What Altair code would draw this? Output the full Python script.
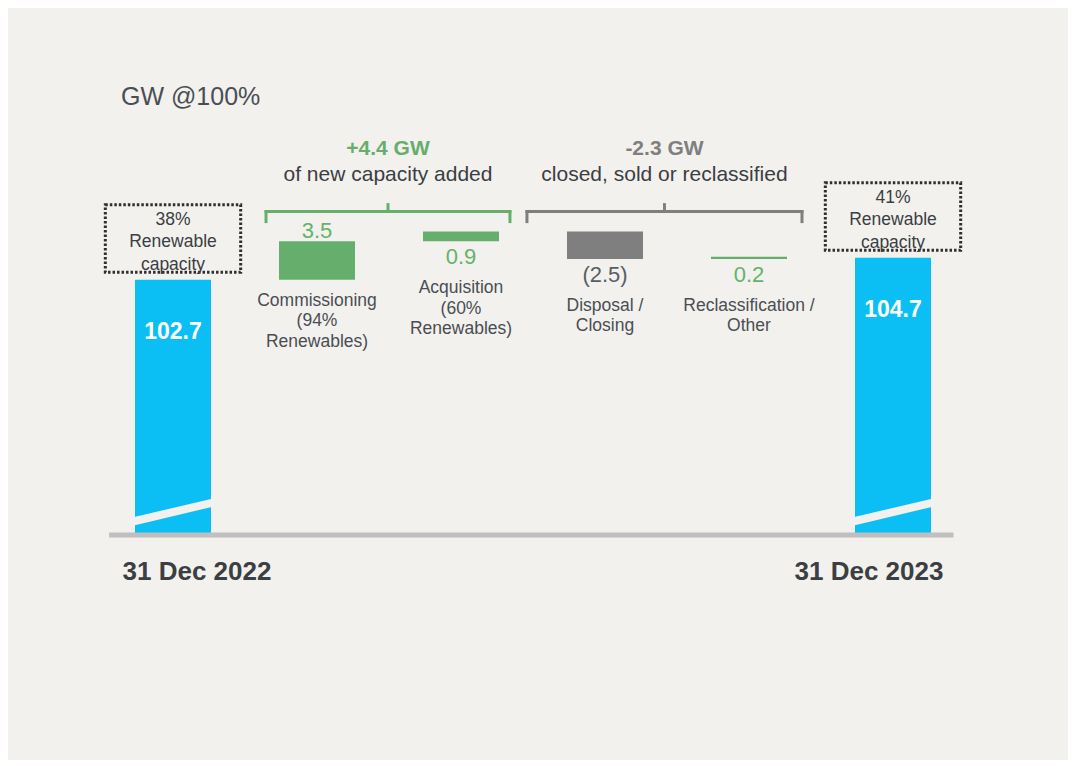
import altair as alt
import pandas as pd

# ---------------- data ----------------
unit_title = "GW @100%"
total_labels = ["31 Dec 2022", "31 Dec 2023"]
total_values = [102.7, 104.7]
renewable_shares = ["38%", "41%"]

step_labels = [
    "Commissioning\n(94%\nRenewables)",
    "Acquisition\n(60%\nRenewables)",
    "Disposal /\nClosing",
    "Reclassification /\nOther",
]
step_values = [3.5, 0.9, -2.5, 0.2]
step_groups = ["add", "add", "remove", "remove"]

group_keys = ["add", "remove"]
group_captions = ["of new capacity added", "closed, sold or reclassified"]

# ---------------- style ----------------
BG = "#F2F1EE"
BLUE = "#0BBEF4"
GREEN = "#66AE6C"
GREEN_TEXT = "#62B36C"
GREY = "#7F7F7F"
NEG_TEXT = "#595E64"
DARK = "#3B3E42"
LABEL = "#4A4E53"
AXIS = "#BFBFBF"
FONT = "Liberation Sans"

W, H = 864, 752
PAD_L, PAD_R = 93, 103
PX = 11.0            # pixels per GW
BASE = 79.5          # broken-axis floor
BASE_PX = 527        # baseline distance from top of plot
y_hi = BASE + BASE_PX / PX
y_lo = y_hi - H / PX
N_SLOTS = len(step_values) + 2
UNIT = W / N_SLOTS
HALF = 38 / UNIT
label_above = [True, False, False, False]
bracket_pad = {"add": (0.354, 0.340), "remove": (0.542, 0.368)}

xs = alt.Scale(domain=[-0.5, N_SLOTS - 0.5], nice=False, zero=False)
ys = alt.Scale(domain=[y_lo, y_hi], nice=False, zero=False)

# ---------------- frames ----------------
total_idx = [0, N_SLOTS - 1]
totals = pd.DataFrame({
    "idx": total_idx,
    "value": total_values,
    "label": total_labels,
    "share": [f"{s}\nRenewable\ncapacity" for s in renewable_shares],
    "vtext": [f"{v:.1f}" for v in total_values],
})
totals["date_x"] = totals["idx"] + [24 / UNIT, -24 / UNIT]
totals["box_x1"] = totals["idx"] - 0.47
totals["box_x2"] = totals["idx"] + 0.47
totals["box_y1"] = totals["value"] + 7.5 / PX
totals["box_y2"] = totals["value"] + 75 / PX
totals["s_x1"] = totals["idx"] - 0.3
totals["s_x2"] = totals["idx"] + 0.3
totals["s_y1"] = BASE + 1.16
totals["s_y2"] = BASE + 3.02
totals["base"] = BASE

rows = []
run = total_values[0]
for i, (lab, v, g) in enumerate(zip(step_labels, step_values, step_groups)):
    s, e = run, run + v
    run = e
    rows.append(dict(
        idx=i + 1, label=lab, value=v, group=g,
        low=min(s, e), high=max(s, e),
        color=GREEN if v >= 0 else GREY,
        vtext=f"{v:.1f}" if v >= 0 else f"({abs(v):.1f})",
        vcolor=GREEN_TEXT if v >= 0 else NEG_TEXT,
        above=label_above[i],
    ))
steps = pd.DataFrame(rows)

bars = pd.concat([
    pd.DataFrame({"idx": totals["idx"], "lo": BASE, "hi": totals["value"], "color": BLUE}),
    pd.DataFrame({"idx": steps["idx"], "lo": steps["low"], "hi": steps["high"], "color": steps["color"]}),
], ignore_index=True)
bars["x1"] = bars["idx"] - HALF
bars["x2"] = bars["idx"] + HALF

grows = []
for g, cap in zip(group_keys, group_captions):
    m = steps[steps["group"] == g]
    pl, pr = bracket_pad[g]
    total = m["value"].sum()
    gy = m["high"].max() + 1.8
    grows.append(dict(
        group=g, caption=cap, g_lo=m["idx"].min() - pl, g_hi=m["idx"].max() + pr,
        gy=gy, end_y=gy - 10 / PX, top_y=gy + 8.5 / PX,
        total=f"{total:+.1f} GW", color=GREEN if total >= 0 else GREY,
    ))
groups = pd.DataFrame(grows)
groups["mid"] = (groups["g_lo"] + groups["g_hi"]) / 2
ends = pd.concat([
    groups[["g_lo", "gy", "end_y", "color"]].rename(columns={"g_lo": "x"}),
    groups[["g_hi", "gy", "end_y", "color"]].rename(columns={"g_hi": "x"}),
], ignore_index=True)

axis_df = pd.DataFrame({"x1": [-0.444], "x2": [N_SLOTS - 1 + 0.42], "y": [BASE]})
title_df = pd.DataFrame({"t": [unit_title]})

col = alt.Color("color:N", scale=None)

# ---------------- layers ----------------
bar_layer = alt.Chart(bars).mark_bar().encode(
    x=alt.X("x1:Q", scale=xs, axis=None), x2="x2:Q",
    y=alt.Y("lo:Q", scale=ys, axis=None), y2="hi:Q",
    color=col,
)

stripe = alt.Chart(totals).mark_rule(color=BG, strokeWidth=8, strokeCap="butt").encode(
    x=alt.X("s_x1:Q", scale=xs), x2="s_x2:Q",
    y=alt.Y("s_y1:Q", scale=ys), y2="s_y2:Q",
)

axis_line = alt.Chart(axis_df).mark_rule(color=AXIS, strokeWidth=5).encode(
    x=alt.X("x1:Q", scale=xs), x2="x2:Q", y=alt.Y("y:Q", scale=ys),
)

date_text = alt.Chart(totals).mark_text(
    font=FONT, fontSize=26, fontWeight="bold", color=DARK, baseline="middle", dy=37,
).encode(x=alt.X("date_x:Q", scale=xs), y=alt.Y("base:Q", scale=ys), text="label:N")

total_text = alt.Chart(totals).mark_text(
    font=FONT, fontSize=23, fontWeight="bold", color="white", baseline="middle", dy=52,
).encode(x=alt.X("idx:Q", scale=xs), y=alt.Y("value:Q", scale=ys), text="vtext:N")

box = alt.Chart(totals).mark_rect(
    fillOpacity=0, stroke="#2F2F2F", strokeWidth=3, strokeDash=[2.5, 2],
).encode(
    x=alt.X("box_x1:Q", scale=xs), x2="box_x2:Q",
    y=alt.Y("box_y1:Q", scale=ys), y2="box_y2:Q",
)

box_text = alt.Chart(totals).mark_text(
    font=FONT, fontSize=17.5, color=DARK, baseline="middle", lineBreak="\n", lineHeight=22.5, dy=15,
).encode(x=alt.X("idx:Q", scale=xs), y=alt.Y("box_y2:Q", scale=ys), text="share:N")

val_above = alt.Chart(steps).transform_filter("datum.above").mark_text(
    font=FONT, fontSize=22, baseline="alphabetic", dy=-3.5,
).encode(x=alt.X("idx:Q", scale=xs), y=alt.Y("high:Q", scale=ys), text="vtext:N",
         color=alt.Color("vcolor:N", scale=None))

val_below = alt.Chart(steps).transform_filter("!datum.above").mark_text(
    font=FONT, fontSize=22, baseline="top", dy=6,
).encode(x=alt.X("idx:Q", scale=xs), y=alt.Y("low:Q", scale=ys), text="vtext:N",
         color=alt.Color("vcolor:N", scale=None))

cat_above = alt.Chart(steps).transform_filter("datum.above").mark_text(
    font=FONT, fontSize=17.5, color=LABEL, baseline="top", dy=12, lineBreak="\n", lineHeight=20.5,
).encode(x=alt.X("idx:Q", scale=xs), y=alt.Y("low:Q", scale=ys), text="label:N")

cat_below = alt.Chart(steps).transform_filter("!datum.above").mark_text(
    font=FONT, fontSize=17.5, color=LABEL, baseline="top", dy=38, lineBreak="\n", lineHeight=20.5,
).encode(x=alt.X("idx:Q", scale=xs), y=alt.Y("low:Q", scale=ys), text="label:N")

br_h = alt.Chart(groups).mark_rule(strokeWidth=3, strokeCap="square").encode(
    x=alt.X("g_lo:Q", scale=xs), x2="g_hi:Q", y=alt.Y("gy:Q", scale=ys), color=col,
)
br_ends = alt.Chart(ends).mark_rule(strokeWidth=3, strokeCap="square").encode(
    x=alt.X("x:Q", scale=xs), y=alt.Y("gy:Q", scale=ys), y2="end_y:Q", color=col,
)
br_mid = alt.Chart(groups).mark_rule(strokeWidth=3).encode(
    x=alt.X("mid:Q", scale=xs), y=alt.Y("gy:Q", scale=ys), y2="top_y:Q", color=col,
)
gr_total = alt.Chart(groups).mark_text(
    font=FONT, fontSize=21, fontWeight="bold", baseline="middle", dy=-63,
).encode(x=alt.X("mid:Q", scale=xs), y=alt.Y("gy:Q", scale=ys), text="total:N", color=col)
gr_caption = alt.Chart(groups).mark_text(
    font=FONT, fontSize=21, color=DARK, baseline="middle", dy=-37,
).encode(x=alt.X("mid:Q", scale=xs), y=alt.Y("gy:Q", scale=ys), text="caption:N")

title = alt.Chart(title_df).mark_text(
    font=FONT, fontSize=25, color=LABEL, align="left", baseline="middle",
).encode(x=alt.value(20), y=alt.value(89), text="t:N")

chart = alt.layer(
    bar_layer, stripe, axis_line, date_text, total_text, box, box_text,
    val_above, val_below, cat_above, cat_below,
    br_h, br_ends, br_mid, gr_total, gr_caption, title,
).properties(
    width=W, height=H, background=BG,
    padding={"left": PAD_L, "right": PAD_R, "top": 0, "bottom": 0},
    autosize=alt.AutoSizeParams(type="none"),
).configure_view(stroke=None)

chart.save("out.html", embed_options={"renderer": "svg", "actions": False})
